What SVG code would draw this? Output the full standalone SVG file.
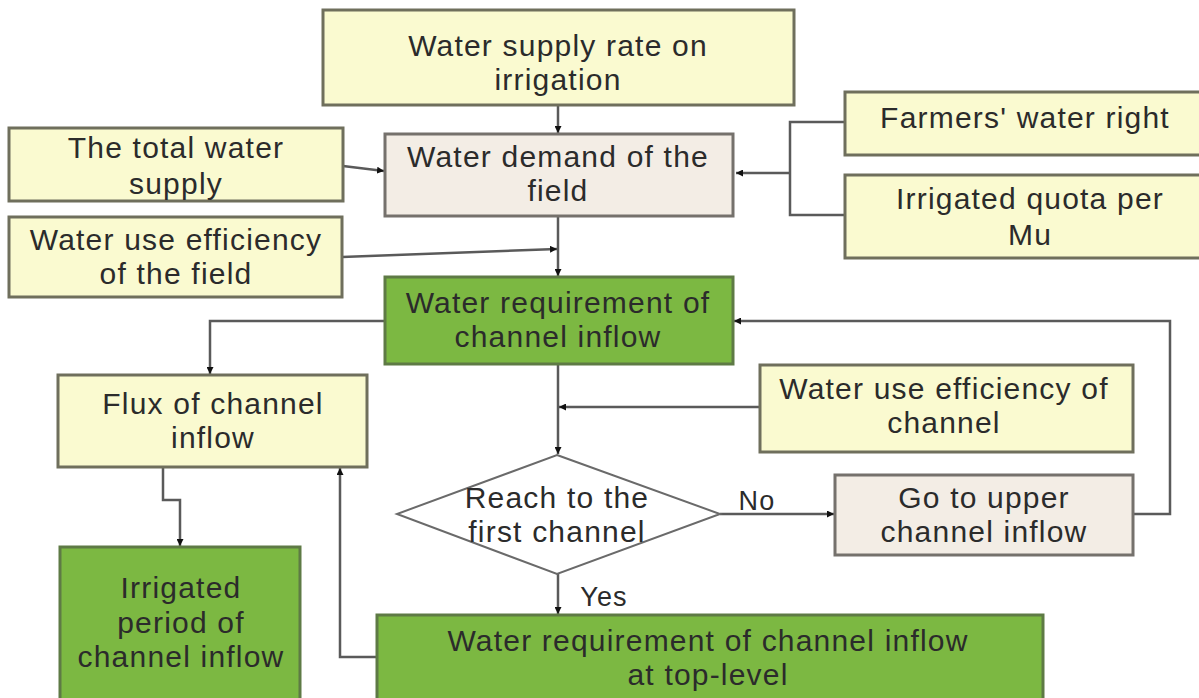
<svg xmlns="http://www.w3.org/2000/svg" width="1199" height="698" viewBox="0 0 1199 698">
<defs>
<marker id="ah" viewBox="0 0 10 10" refX="10" refY="5" markerWidth="7" markerHeight="7" orient="auto" markerUnits="userSpaceOnUse">
<path d="M0,0 L10,5 L0,10 z" fill="#111"/>
</marker>
<style>
.y{fill:#fafad0;stroke:#6f6f5c;stroke-width:3}
.b{fill:#f3ede5;stroke:#75716c;stroke-width:3}
.g{fill:#7cb842;stroke:#5e7a45;stroke-width:3}
.d{fill:#ffffff;stroke:#6a6a6a;stroke-width:2}
text{font-family:"Liberation Sans",Arial,sans-serif;font-size:30px;letter-spacing:1.2px;fill:#2b2b2b;text-anchor:middle}
.lbl{font-size:27px}
.c{fill:none;stroke:#5a5a5a;stroke-width:2.5}
.a{marker-end:url(#ah)}
</style>
</defs>
<rect width="1199" height="698" fill="#ffffff"/>
<g id="connectors">
<path class="c a" d="M558,105 L558,133"/>
<path class="c a" d="M343,166 L384,171"/>
<path class="c" d="M845,122 L790,122 L790,215 L845,215"/>
<path class="c a" d="M790,173 L736,173"/>
<path class="c a" d="M558,216 L558,276"/>
<path class="c a" d="M342,257 L557,249"/>
<path class="c a" d="M385,321 L210,321 L210,374"/>
<path class="c a" d="M558,364 L558,454"/>
<path class="c a" d="M760,407 L559,407"/>
<path class="c a" d="M720,514 L834,514"/>
<path class="c a" d="M1133,514 L1170,514 L1170,321 L734,321"/>
<path class="c a" d="M558,574 L558,614"/>
<path class="c a" d="M377,657 L340,657 L340,468"/>
<path class="c a" d="M163,467 L163,500 L180,500 L180,546"/>
<text class="lbl" x="757" y="510">No</text>
<text class="lbl" x="604" y="606">Yes</text>
</g>
<g id="n-supply-rate">
<rect class="y" x="323" y="10" width="471" height="95"/>
<text x="558" y="56">Water supply rate on</text>
<text x="558" y="90">irrigation</text>
</g>
<g id="n-total-supply">
<rect class="y" x="9" y="128" width="334" height="73"/>
<text x="176" y="158">The total water</text>
<text x="176" y="194">supply</text>
</g>
<g id="n-demand">
<rect class="b" x="385" y="134" width="348" height="82"/>
<text x="558" y="167">Water demand of the</text>
<text x="558" y="201">field</text>
</g>
<g id="n-farmers">
<rect class="y" x="845" y="92" width="360" height="63"/>
<text x="1025" y="128">Farmers' water right</text>
</g>
<g id="n-quota">
<rect class="y" x="845" y="175" width="360" height="83"/>
<text x="1030" y="209">Irrigated quota per</text>
<text x="1030" y="245">Mu</text>
</g>
<g id="n-wue-field">
<rect class="y" x="9" y="217" width="333" height="80"/>
<text x="176" y="250">Water use efficiency</text>
<text x="176" y="284">of the field</text>
</g>
<g id="n-requirement">
<rect class="g" x="385" y="277" width="348" height="87"/>
<text x="558" y="313">Water requirement of</text>
<text x="558" y="347">channel inflow</text>
</g>
<g id="n-flux">
<rect class="y" x="58" y="375" width="309" height="92"/>
<text x="213" y="414">Flux of channel</text>
<text x="213" y="448">inflow</text>
</g>
<g id="n-wue-channel">
<rect class="y" x="760" y="365" width="373" height="87"/>
<text x="944" y="399">Water use efficiency of</text>
<text x="944" y="433">channel</text>
</g>
<g id="n-decision">
<polygon class="d" points="557,455 720,514 557,574 397,514"/>
<text x="557" y="508">Reach to the</text>
<text x="557" y="542">first channel</text>
</g>
<g id="n-upper">
<rect class="b" x="835" y="475" width="298" height="80"/>
<text x="984" y="508">Go to upper</text>
<text x="984" y="542">channel inflow</text>
</g>
<g id="n-period">
<rect class="g" x="60" y="547" width="240" height="160"/>
<text x="181" y="598">Irrigated</text>
<text x="181" y="633">period of</text>
<text x="181" y="667">channel inflow</text>
</g>
<g id="n-toplevel">
<rect class="g" x="377" y="615" width="666" height="90"/>
<text x="708" y="651">Water requirement of channel inflow</text>
<text x="708" y="685">at top-level</text>
</g>
</svg>
